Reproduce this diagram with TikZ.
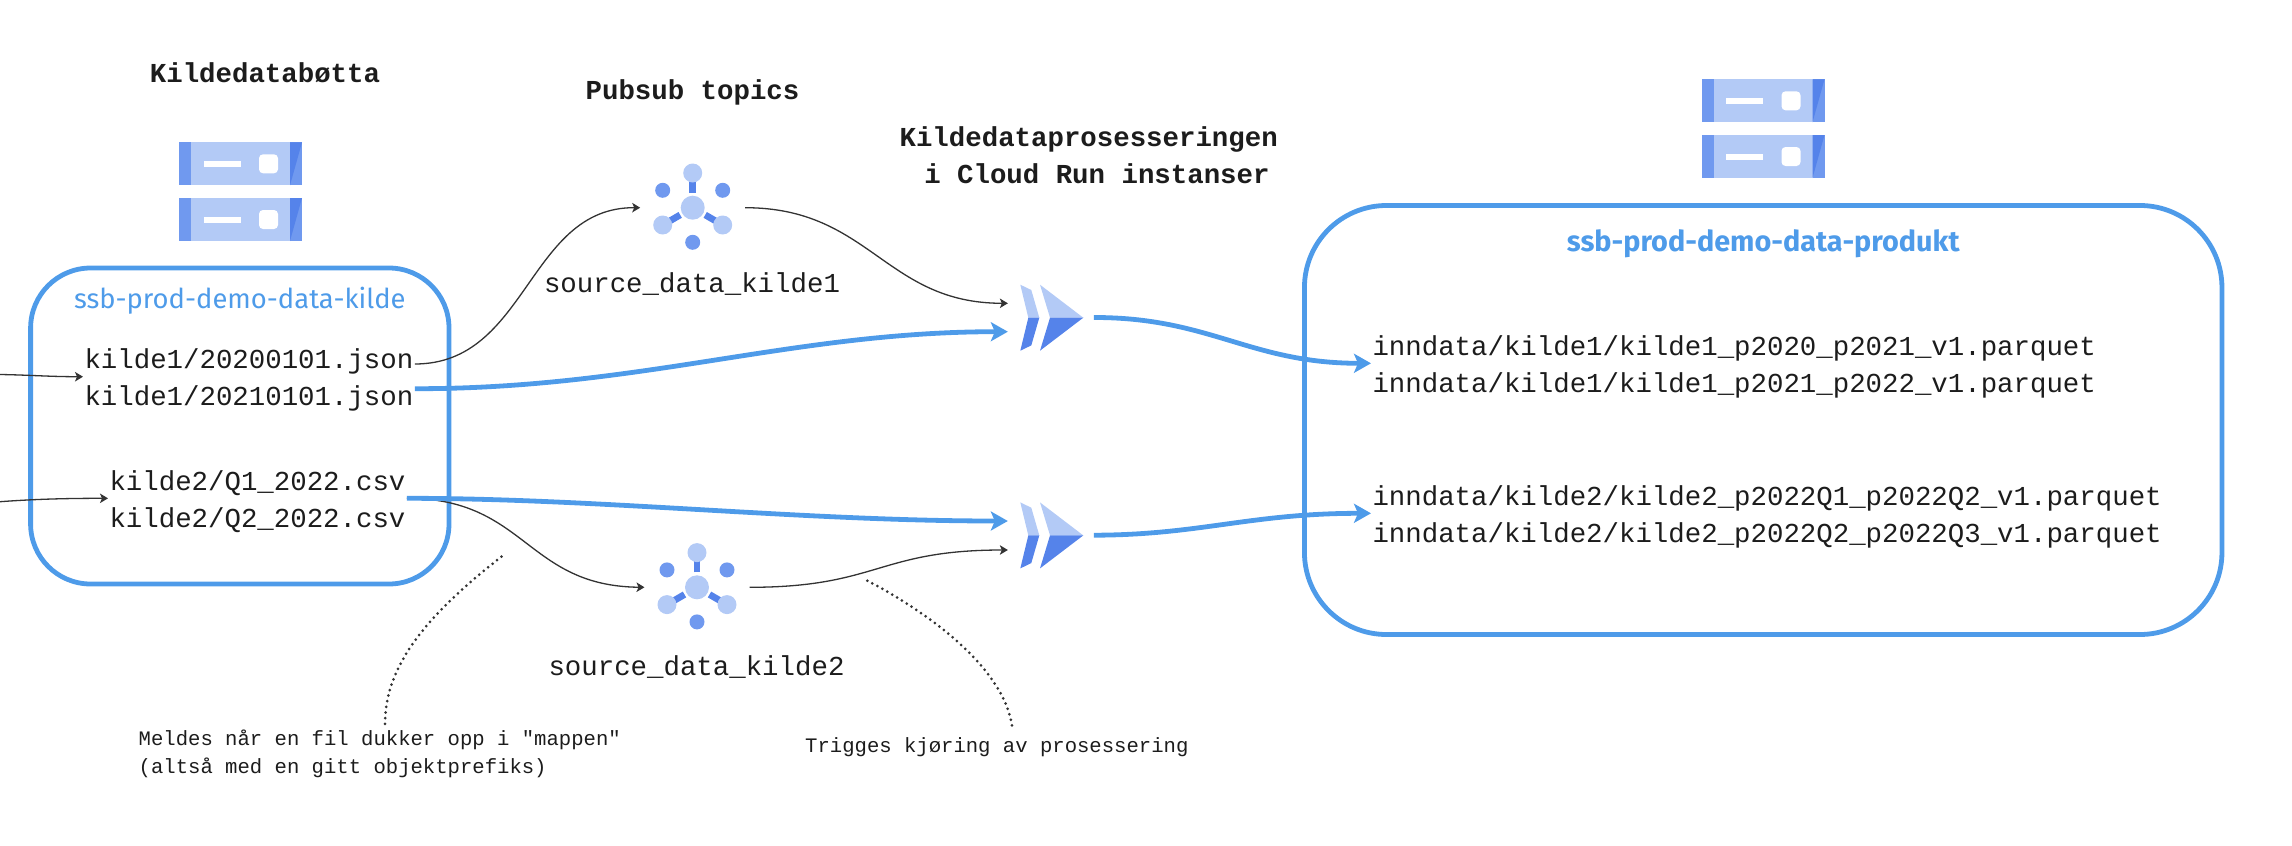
\documentclass[tikz,border=0pt]{standalone}
\usepackage{fontspec}
\setmainfont{Fira Sans}
\setmonofont{Liberation Mono}
\usetikzlibrary{arrows.meta}

\definecolor{bucketblue}{HTML}{4E9BE9}
\definecolor{iconlight}{HTML}{B3CAF6}
\definecolor{iconmid}{HTML}{7099EF}
\definecolor{icondark}{HTML}{5583EA}
\definecolor{inktext}{HTML}{1C1C1C}
\definecolor{inkline}{HTML}{333333}

\newcommand{\monofont}{\ttfamily\fontsize{27.4pt}{37pt}\selectfont}
\newcommand{\notefont}{\ttfamily\fontsize{20.6pt}{28pt}\selectfont}

% one unit of the storage icon, (0,0) is its upper left corner
\newcommand{\serverunit}[2]{
  \begin{scope}[shift={(#1,#2)}]
    \fill[iconlight] (12,0) rectangle (111,43);
    \fill[iconmid] (0,0) rectangle (12,43);
    \fill[iconmid] (111,0) rectangle (123,43);
    \fill[icondark] (111,0) -- (123,0) -- (111,43) -- cycle;
    \fill[white] (24.5,19) rectangle (61.5,24.5);
    \fill[white,rounded corners=4pt] (80,12) rectangle (99,31);
  \end{scope}
}
\newcommand{\serverrack}[2]{
  \serverunit{#1}{#2}
  \serverunit{#1}{#2+55.7}
}
% topic icon, (0,0) is the centre of the big circle
\newcommand{\topicicon}[2]{
  \begin{scope}[shift={(#1,#2)}]
    \draw[icondark,line width=6.7pt] (0,-15) -- (0,-26);
    \draw[icondark,line width=6.7pt] (-12.5,7.2) -- (-22.5,13);
    \draw[icondark,line width=6.7pt] (12.5,7.2) -- (22.5,13);
    \fill[iconlight] (0,0) circle (12pt) (0,-34.7) circle (9.5pt)
                     (-30,17.3) circle (9.5pt) (30,17.3) circle (9.5pt);
    \fill[iconmid] (-30,-17.4) circle (7.5pt) (30,-17.4) circle (7.5pt)
                   (0,34.6) circle (7.5pt);
  \end{scope}
}
% run icon, (0,0) is the left tip of the outer chevron pair at mid height
\newcommand{\runicon}[2]{
  \begin{scope}[shift={(#1,#2)}]
    \fill[iconlight] (0,-33) -- (11,-27.7) -- (19,0) -- (8,0) -- cycle;
    \fill[icondark] (0,33) -- (11,27.7) -- (19,0) -- (8,0) -- cycle;
    \fill[iconlight] (19.7,-33) -- (63,0) -- (29.7,0) -- cycle;
    \fill[icondark] (19.7,33) -- (63,0) -- (29.7,0) -- cycle;
  \end{scope}
}

\begin{document}
\begin{tikzpicture}[x=1pt,y=-1pt,
    bucket/.style={draw=bucketblue,line width=4.8pt,minimum width=#1},
    filetext/.style={font=\monofont,text=inktext,align=left,inner sep=0pt,outer sep=1.5pt},
    heading/.style={font=\monofont\bfseries,text=inktext,align=center,inner sep=0pt},
    notetext/.style={font=\notefont,text=inktext,align=left,inner sep=0pt},
    iconslot/.style={inner sep=0pt,minimum width=#1,minimum height=66pt},
    thinflow/.style={draw=inkline,line width=1.3pt,-{Stealth[length=8pt,width=9.5pt,inset=2pt]}},
    thickflow/.style={draw=bucketblue,line width=4.8pt,-{Stealth[length=17pt,width=19pt,inset=4pt]}},
    dotline/.style={draw=inkline,line width=3pt,line cap=round,dash pattern=on 0pt off 5.7pt}]
  \useasboundingbox (0,0) rectangle (2292,846);

  \node[heading] (titleKilde) at (265,72.5) {Kildedatabøtta};
  \node[heading] (titleTopics) at (692.5,92) {Pubsub topics};
  \node[heading] (titleRun) at (1088.7,155.5) {Kildedataprosesseringen\\\mbox{ }i Cloud Run instanser};

  \serverrack{179}{142.3}
  \serverrack{1701.5}{79.3}

  \node[bucket=418.4pt,minimum height=316pt,rounded corners=60pt] (boxKilde) at (239.8,426) {};
  \node[bucket=917.5pt,minimum height=429pt,rounded corners=82pt] (boxProdukt) at (1763.2,420) {};
  \node[font=\fontsize{27.4pt}{33pt}\selectfont,text=bucketblue] (nameKilde) at (239.8,301) {ssb-prod-demo-data-kilde};
  \node[font=\fontsize{28.8pt}{34pt}\selectfont\bfseries,text=bucketblue] (nameProdukt) at (1763.2,244) {ssb-prod-demo-data-produkt};

  \node[filetext,anchor=west] (kildeA) at (83,379.7) {kilde1/20200101.json\\kilde1/20210101.json};
  \node[filetext,anchor=west] (kildeB) at (108,501.3) {kilde2/Q1\_2022.csv\\kilde2/Q2\_2022.csv};
  \node[filetext,anchor=west] (produktA) at (1371,366.8) {inndata/kilde1/kilde1\_p2020\_p2021\_v1.parquet\\inndata/kilde1/kilde1\_p2021\_p2022\_v1.parquet};
  \node[filetext,anchor=west] (produktB) at (1371,516.8) {inndata/kilde2/kilde2\_p2022Q1\_p2022Q2\_v1.parquet\\inndata/kilde2/kilde2\_p2022Q2\_p2022Q3\_v1.parquet};

  \topicicon{692.7}{207.7}
  \topicicon{697}{587.3}
  \node[iconslot=104.6pt] (topicA) at (692.7,207.7) {};
  \node[iconslot=104.6pt] (topicB) at (697,587.3) {};
  \node[filetext] (topicNameA) at (692,284) {source\_data\_kilde1};
  \node[filetext] (topicNameB) at (696.5,666.7) {source\_data\_kilde2};

  \runicon{1020.3}{317.7}
  \runicon{1020.3}{535.4}
  \node[iconslot=85.5pt] (runA) at (1050.8,317.5) {};
  \node[iconslot=85.5pt] (runB) at (1050.8,535.2) {};

  \coordinate (inA) at (0,374.5);
  \coordinate (inB) at (0,501.7);
  \draw[thinflow] (inA) .. controls (30,375) and (50,376.7) .. ([yshift=3pt]kildeA.west);
  \draw[thinflow] (inB) .. controls (30,499.5) and (60,498.3) .. ([yshift=3pt]kildeB.west);

  \draw[thinflow] ([yshift=15.7pt]kildeA.east) .. controls (528,364) and (528,207) .. (topicA.west);
  \draw[thinflow] (topicA.east) .. controls (870,207.7) and (885,303.3) .. ([yshift=14.2pt]runA.west);
  \draw[thickflow] ([yshift=-9pt]kildeA.east) .. controls (640,389) and (792,331.7) .. ([yshift=-14.2pt]runA.west);
  \draw[thickflow] (runA.east) .. controls (1210,317.3) and (1250,363.3) .. ([yshift=3.5pt]produktA.west);

  \draw[thinflow] ([yshift=3pt]kildeB.east) .. controls (526,498.3) and (526,586) .. (topicB.west);
  \draw[thinflow] (topicB.east) .. controls (878,587.3) and (878,550) .. ([yshift=-14.8pt]runB.west);
  \draw[thickflow] ([yshift=3pt]kildeB.east) .. controls (600,498.3) and (800,521) .. ([yshift=14.2pt]runB.west);
  \draw[thickflow] (runB.east) .. controls (1200,535) and (1250,513.3) .. ([yshift=3.5pt]produktB.west);

  \node[notetext,anchor=north west] (noteTopic) at (138.5,730) {Meldes når en fil dukker opp i "mappen"\\(altså med en gitt objektprefiks)};
  \node[notetext,anchor=west] (noteRun) at (805,747.5) {Trigges kjøring av prosessering};
  \coordinate (dotTopic) at (501.5,556.7);
  \coordinate (dotTopicEnd) at (385,724);
  \coordinate (dotRun) at (867.3,580.7);
  \coordinate (dotRunEnd) at (1012.3,728.3);
  \draw[dotline] (dotTopic) .. controls (420,620) and (385,670) .. (dotTopicEnd);
  \draw[dotline] (dotRun) .. controls (920,608) and (1005,665) .. (dotRunEnd);
\end{tikzpicture}
\end{document}
